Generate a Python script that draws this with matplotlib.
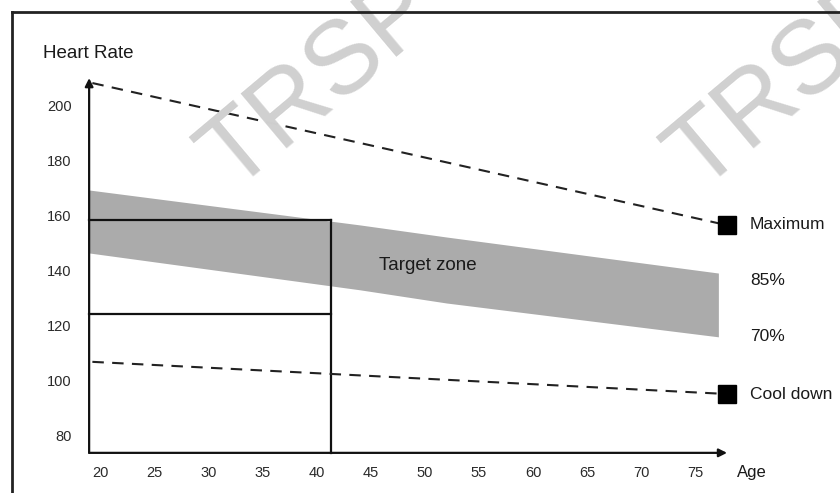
import matplotlib
matplotlib.use("Agg")
import matplotlib.pyplot as plt
from matplotlib.lines import Line2D

plt.rcParams['font.family'] = ['Liberation Sans', 'DejaVu Sans']

# chart values
age_ticks = [20, 25, 30, 35, 40, 45, 50, 55, 60, 65, 70, 75]
hr_ticks = [80, 100, 120, 140, 160, 180, 200]

max_age = [19.3, 77.9]
max_hr = [208.7, 157.0]
cool_age = [19.3, 77.9]
cool_hr = [107.3, 95.6]

zone_age = [19.0, 44.0, 52.0, 77.1]
zone_hi = [169.8, 157.1, 152.7, 139.6]
zone_lo = [146.9, 133.5, 128.7, 116.4]

box_age = 41.3
box_hi = 159.0
box_lo = 124.8

axis_age = 19.0
axis_hr = 74.2

side_labels = ["Maximum", "85%", "70%", "Cool down"]
side_hr = [157.1, 137.0, 116.4, 95.3]

fig = plt.figure(figsize=(8.4, 4.93), dpi=100)
ax = fig.add_axes([0, 0, 1, 1])
ax.set_xlim(10.77, 88.33)
ax.set_ylim(59.6, 238.9)
ax.axis('off')

# frame around the picture
fig.add_artist(Line2D([12 / 840, 1], [1 - 12 / 493, 1 - 12 / 493], color='#222222', lw=2))
fig.add_artist(Line2D([12 / 840, 12 / 840], [0, 1 - 12 / 493], color='#222222', lw=2))

# watermark (cut off at the top, as in the original)
for xp in [233, 700]:
    fig.text(xp / 840, 1 - 192 / 493, "TRSP", fontsize=74, color='#d0d0d0',
             rotation=40, rotation_mode='anchor', ha='left', va='baseline', zorder=0)

# target zone band
ax.fill_between(zone_age, zone_lo, zone_hi, color='#ababab', lw=0, zorder=1)
ax.text(50.3, 142.2, "Target zone", fontsize=13.5, color='#1a1a1a', ha='center', va='center', zorder=3)

# box for age 40
ax.plot([axis_age, box_age], [box_hi, box_hi], color='#111111', lw=1.6, zorder=2)
ax.plot([axis_age, box_age], [box_lo, box_lo], color='#111111', lw=1.6, zorder=2)
ax.plot([box_age, box_age], [axis_hr, box_hi], color='#111111', lw=1.6, zorder=2)

# dashed lines with end markers
ax.plot(max_age, max_hr, color='#222222', lw=1.5, dashes=(5.5, 4), zorder=2)
ax.plot(cool_age, cool_hr, color='#222222', lw=1.5, dashes=(5.5, 4), zorder=2)
ax.plot(max_age[-1], max_hr[-1], 's', color='black', ms=12.5, zorder=3)
ax.plot(cool_age[-1], cool_hr[-1], 's', color='black', ms=12.5, zorder=3)

for lab, hr in zip(side_labels, side_hr):
    ax.text(80.0, hr, lab, fontsize=12.5, color='#1a1a1a', ha='left', va='center')

# axes with arrow heads
ax.annotate('', xy=(axis_age, 210.5), xytext=(axis_age, axis_hr),
            arrowprops=dict(arrowstyle='-|>', lw=1.6, color='#111111', mutation_scale=12,
                            shrinkA=0, shrinkB=0))
ax.annotate('', xy=(77.9, axis_hr), xytext=(axis_age, axis_hr),
            arrowprops=dict(arrowstyle='-|>', lw=1.6, color='#111111', mutation_scale=12,
                            shrinkA=0, shrinkB=0))

for a in age_ticks:
    ax.text(a, 66.9, str(a), fontsize=10.5, color='#2a2a2a', ha='center', va='center')
for h in hr_ticks:
    ax.text(17.4, h, str(h), fontsize=10.5, color='#2a2a2a', ha='right', va='center')

ax.text(14.7, 219.6, "Heart Rate", fontsize=13.5, color='#1a1a1a', ha='left', va='center')
ax.text(78.8, 67.0, "Age", fontsize=12, color='#1a1a1a', ha='left', va='center')

fig.savefig("out.png", dpi=100)
